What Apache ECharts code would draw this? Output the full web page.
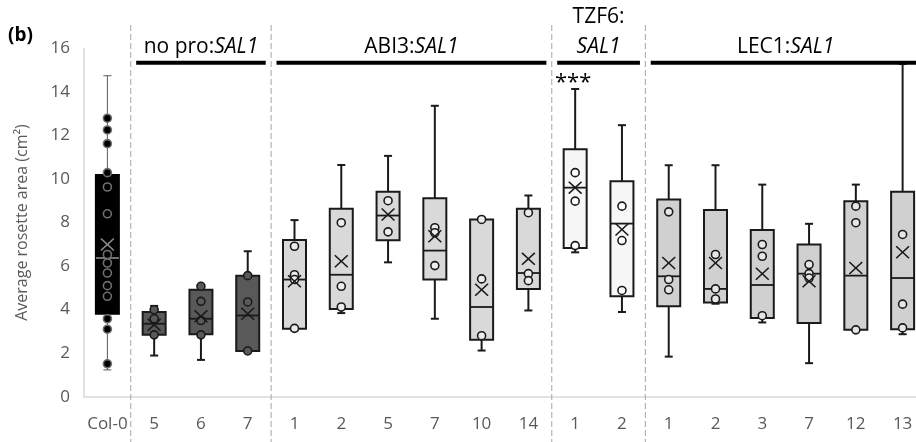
<!DOCTYPE html>
<html><head><meta charset="utf-8">
<script src="https://cdn.jsdelivr.net/npm/echarts@6/dist/echarts.min.js"></script>
<style>html,body{margin:0;padding:0;background:#fff}#c{width:916px;height:442px}</style>
</head><body><div id="c"></div>
<script>
// ---------- data ----------
const categories = ['Col-0','5','6','7','1','2','5','7','10','14','1','2','1','2','3','7','12','13'];
// [min, Q1, median, Q3, max]
const boxStats = [
  [1.23, 3.81, 6.37, 10.18, 14.74],
  [1.89, 2.84, 3.35, 3.89, 4.17],
  [1.69, 2.87, 3.58, 4.91, 5.12],
  [2.10, 2.10, 3.73, 5.56, 6.68],
  [3.05, 3.12, 5.38, 7.20, 8.11],
  [3.84, 4.03, 5.60, 8.63, 10.64],
  [6.17, 7.19, 8.32, 9.41, 11.06],
  [3.58, 5.38, 6.71, 9.11, 13.36],
  [2.12, 2.61, 4.12, 8.14, 8.22],
  [3.96, 4.95, 5.68, 8.63, 9.24],
  [6.63, 6.83, 9.60, 11.36, 14.13],
  [3.89, 4.61, 7.95, 9.89, 12.47],
  [1.84, 4.15, 5.53, 9.06, 10.63],
  [4.27, 4.33, 4.95, 8.57, 10.63],
  [3.41, 3.61, 5.13, 7.65, 9.74],
  [1.54, 3.38, 5.65, 6.99, 7.94],
  [3.05, 3.07, 5.56, 8.98, 9.74],
  [2.87, 3.10, 5.45, 9.41, 15.28]
];
const means = [6.99, 3.30, 3.69, 3.81, 5.30, 6.22, 8.37, 7.37, 4.91, 6.33, 9.60, 7.68, 6.14, 6.14, 5.65, 5.30, 5.91, 6.63];
const points = [
  [12.79, 12.25, 11.62, 10.29, 9.63, 8.40, 6.53, 6.14, 5.68, 5.10, 4.61, 3.58, 3.10, 1.51],
  [3.99, 3.58, 2.84],
  [5.07, 4.38, 3.50, 2.84],
  [5.56, 4.35, 2.10],
  [6.91, 5.60, 5.38, 3.14],
  [7.99, 5.07, 4.12],
  [9.00, 7.57],
  [7.76, 7.53, 6.02],
  [8.14, 5.41, 2.80],
  [8.45, 5.65, 5.33],
  [10.29, 8.98, 6.94],
  [8.75, 7.17, 4.88],
  [8.49, 5.38, 4.91],
  [6.53, 4.95, 4.49],
  [6.99, 6.45, 3.72],
  [6.07, 5.65, 5.45],
  [8.75, 7.99, 3.07],
  [7.45, 4.25, 3.16]
];
const yMin = 0, yMax = 16, yStep = 2;
const yTitle = 'Average rosette area (cm²)';
const panelLabel = '(b)';
// groups: header text (prefix, italic gene), first & last category index
const groups = [
  {prefix: 'no pro:', gene: 'SAL1', first: 1, last: 3, twoLine: false},
  {prefix: 'ABI3:', gene: 'SAL1', first: 4, last: 9, twoLine: false},
  {prefix: 'TZF6:', gene: 'SAL1', first: 10, last: 11, twoLine: true},
  {prefix: 'LEC1:', gene: 'SAL1', first: 12, last: 17, twoLine: false}
];
const significance = [{cat: 10, text: '***', value: 14.72}];

// ---------- styles ----------
const FONT = '"Open Sans", "Noto Sans", sans-serif';
const controlStyle = {fill: '#000000', stroke: '#000000', whisker: '#595959', whiskerW: 1, median: '#7f7f7f', ptFill: '#000000', ptStroke: '#6f6f6f', mean: '#8c8c8c'};
const groupStyles = [
  {fill: '#595959', stroke: '#1a1a1a', whisker: '#1a1a1a', whiskerW: 2, median: '#1a1a1a', ptFill: '#595959', ptStroke: '#1a1a1a', mean: '#1a1a1a'},
  {fill: '#d9d9d9', stroke: '#1a1a1a', whisker: '#1a1a1a', whiskerW: 2, median: '#1a1a1a', ptFill: '#ececec', ptStroke: '#1a1a1a', mean: '#1a1a1a'},
  {fill: '#f7f7f7', stroke: '#1a1a1a', whisker: '#1a1a1a', whiskerW: 2, median: '#1a1a1a', ptFill: '#ffffff', ptStroke: '#1a1a1a', mean: '#1a1a1a'},
  {fill: '#d0d0d0', stroke: '#1a1a1a', whisker: '#1a1a1a', whiskerW: 2, median: '#1a1a1a', ptFill: '#e6e6e6', ptStroke: '#1a1a1a', mean: '#1a1a1a'}
];
function styleOf(i) {
  for (let g = 0; g < groups.length; g++) {
    if (i >= groups[g].first && i <= groups[g].last) return groupStyles[g];
  }
  return controlStyle;
}

const boxData = boxStats.map((s, i) => [i].concat(s));
const pointData = [];
points.forEach((arr, i) => arr.forEach(v => {
  const st = styleOf(i);
  pointData.push({value: [i, v], itemStyle: {color: st.ptFill, borderColor: st.ptStroke}});
}));
const meanData = means.map((v, i) => ({value: [i, v], itemStyle: {color: styleOf(i).mean}}));
const XPATH = 'path://M0,0.08L0.08,0L0.5,0.42L0.92,0L1,0.08L0.58,0.5L1,0.92L0.92,1L0.5,0.58L0.08,1L0,0.92L0.42,0.5Z';

const chart = echarts.init(document.getElementById('c'), null, {renderer: 'canvas'});
const option = {
  animation: false,
  backgroundColor: '#ffffff',
  textStyle: {fontFamily: FONT},
  grid: {left: 84, top: 48.3, width: 842, height: 348.4, containLabel: false, outerBoundsMode: 'none'},
  xAxis: {
    type: 'category', data: categories, boundaryGap: true,
    axisTick: {show: false},
    axisLine: {lineStyle: {color: '#d9d9d9', width: 1.5}},
    axisLabel: {color: '#595959', fontSize: 17, fontFamily: FONT, margin: 19, interval: 0}
  },
  yAxis: {
    type: 'value', min: yMin, max: yMax, interval: yStep,
    axisLine: {show: true, lineStyle: {color: '#d9d9d9', width: 1.5}},
    axisTick: {show: false},
    splitLine: {show: false},
    axisLabel: {color: '#595959', fontSize: 17, fontFamily: FONT, margin: 14},
    name: yTitle, nameLocation: 'middle', nameGap: 54, nameRotate: 90,
    nameTextStyle: {color: '#595959', fontSize: 16, fontFamily: FONT}
  },
  series: [
    {
      type: 'custom', name: 'box',
      encode: {x: 0, y: [1, 2, 3, 4, 5]},
      data: boxData,
      z: 2,
      renderItem: function (params, api) {
        const i = api.value(0);
        const mn = api.value(1), q1 = api.value(2), md = api.value(3), q3 = api.value(4), mx = api.value(5);
        const x = api.coord([i, 0])[0];
        const y = v => api.coord([i, v])[1];
        const bw = 23, cw = 8;
        const st = styleOf(i);
        const children = [];
        const wl = {stroke: st.whisker, lineWidth: st.whiskerW};
        children.push({type: 'line', shape: {x1: x, y1: y(q3), x2: x, y2: y(mx)}, style: wl});
        children.push({type: 'line', shape: {x1: x, y1: y(q1), x2: x, y2: y(mn)}, style: wl});
        children.push({type: 'line', shape: {x1: x - cw / 2, y1: y(mx), x2: x + cw / 2, y2: y(mx)}, style: wl});
        children.push({type: 'line', shape: {x1: x - cw / 2, y1: y(mn), x2: x + cw / 2, y2: y(mn)}, style: wl});
        children.push({type: 'rect', shape: {x: x - bw / 2, y: y(q3), width: bw, height: y(q1) - y(q3)},
          style: {fill: st.fill, stroke: st.stroke, lineWidth: 2}});
        children.push({type: 'line', shape: {x1: x - bw / 2, y1: y(md), x2: x + bw / 2, y2: y(md)},
          style: {stroke: st.median, lineWidth: 1.8}});
        return {type: 'group', children: children};
      }
    },
    {
      type: 'scatter', name: 'points', data: pointData, z: 3,
      symbol: 'circle', symbolSize: 8,
      itemStyle: {borderWidth: 1.6, opacity: 1}
    },
    {
      type: 'scatter', name: 'mean', data: meanData, z: 4,
      symbol: XPATH, symbolSize: [14, 13],
      itemStyle: {opacity: 1}
    }
  ]
};
chart.setOption(option);

function cx(i) { return chart.convertToPixel({xAxisIndex: 0}, i); }
function cy(v) { return chart.convertToPixel({yAxisIndex: 0}, v); }

const graphics = [];
// panel label
graphics.push({type: 'text', left: 8, top: 26, style: {text: panelLabel, font: 'bold 19px ' + FONT, fill: '#000'}});
// dashed separators and headers
groups.forEach(g => {
  const xb = (cx(g.first - 1) + cx(g.first)) / 2;
  graphics.push({type: 'line', shape: {x1: xb, y1: 25, x2: xb, y2: 442},
    style: {stroke: '#a6a6a6', lineWidth: 1, lineDash: [6, 3]}, z: 1});
  const x0 = cx(g.first) - 18, x1 = cx(g.last) + 18;
  graphics.push({type: 'rect', shape: {x: x0, y: 60.8, width: x1 - x0, height: 4}, style: {fill: '#000'}, z: 5});
  const xc = (cx(g.first) + cx(g.last)) / 2;
  const txt = g.twoLine ? '{n|' + g.prefix + '}\n{i|' + g.gene + '}' : '{n|' + g.prefix + '}{i|' + g.gene + '}';
  graphics.push({type: 'text', x: xc, y: g.twoLine ? 31.7 : 46.7, z: 5,
    style: {text: txt, align: 'center', verticalAlign: 'middle', fill: '#000',
      rich: {
        n: {fontFamily: FONT, fontSize: 21, lineHeight: 30, fill: '#000'},
        i: {fontFamily: FONT, fontSize: 21, lineHeight: 30, fontStyle: 'italic', fill: '#000'}
      }}});
});
significance.forEach(s => {
  graphics.push({type: 'text', x: cx(s.cat) - 2, y: cy(s.value) + 7, z: 5,
    style: {text: s.text, align: 'center', verticalAlign: 'middle', font: '22px ' + FONT, fill: '#000'}});
});
chart.setOption({graphic: graphics});
</script>
</body></html>
